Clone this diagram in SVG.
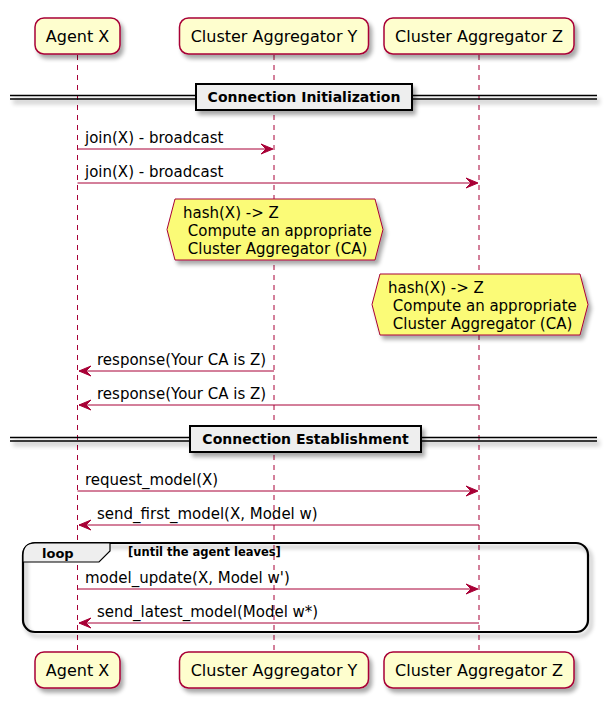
<svg xmlns="http://www.w3.org/2000/svg" width="607" height="708" viewBox="0 0 607 708">
<style>
.part{fill:#FEFECE;stroke:#A80036;stroke-width:1.5}
.pt{font-family:"DejaVu Sans",sans-serif;font-size:16px;fill:#000;text-anchor:middle}
.life{stroke:#A80036;stroke-width:1;stroke-dasharray:5,5;fill:none}
.msg{stroke:#A80036;stroke-width:1;fill:none}
.ah{fill:#A80036;stroke:#A80036;stroke-width:1}
.mt{font-family:"DejaVu Sans",sans-serif;font-size:15px;fill:#000}
.note{fill:#FBFB77;stroke:#A80036;stroke-width:1}
.div{fill:#EEEEEE;stroke:#000;stroke-width:2}
.dl{stroke:#000;stroke-width:1.3;fill:none}
.dt{font-family:"DejaVu Sans",sans-serif;font-size:14px;font-weight:bold;fill:#000;text-anchor:middle}
.loop{fill:none;stroke:#000;stroke-width:2.2}
.tab{fill:#EEEEEE;stroke:#000;stroke-width:1.2}
.lt{font-family:"DejaVu Sans",sans-serif;font-weight:bold;fill:#000}
</style>
<defs>
<filter id="sh" filterUnits="userSpaceOnUse" x="0" y="0" width="607" height="708">
<feGaussianBlur in="SourceAlpha" stdDeviation="2" result="b"/>
<feOffset in="b" dx="3" dy="4" result="o"/>
<feComponentTransfer in="o" result="s"><feFuncA type="linear" slope="0.35"/></feComponentTransfer>
<feMerge><feMergeNode in="s"/><feMergeNode in="SourceGraphic"/></feMerge>
</filter>
</defs>
<g id="lifelines">
<line class="life" x1="77.5" y1="55" x2="77.5" y2="652"/>
<line class="life" x1="274" y1="55" x2="274" y2="652"/>
<line class="life" x1="479" y1="55" x2="479" y2="652"/>
</g>
<g id="divider-init">
<g filter="url(#sh)">
<line class="dl" x1="10" y1="95.5" x2="597" y2="95.5"/>
<line class="dl" x1="10" y1="99" x2="597" y2="99"/>
</g>
<rect class="div" x="196" y="84" width="216" height="26" filter="url(#sh)"/>
<text class="dt" x="304" y="102">Connection Initialization</text>
</g>
<g id="divider-est">
<g filter="url(#sh)">
<line class="dl" x1="10" y1="437.5" x2="597" y2="437.5"/>
<line class="dl" x1="10" y1="441" x2="597" y2="441"/>
</g>
<rect class="div" x="190" y="426" width="231" height="26" filter="url(#sh)"/>
<text class="dt" x="305.5" y="444">Connection Establishment</text>
</g>
<g id="loop">
<rect class="loop" x="23" y="543" width="565" height="89" rx="12" filter="url(#sh)"/>
<path class="tab" d="M23,562 L23,555 Q23,543 35,543 L110,543 L110,551 L99,562 Z"/>
<text class="lt" x="42" y="558" font-size="13px">loop</text>
<text class="lt" x="128" y="556" font-size="11.5px">[until the agent leaves]</text>
</g>
<g id="note-y">
<polygon class="note" points="167,229.5 175,199 375,199 383,229.5 375,260 175,260" filter="url(#sh)"/>
<text class="mt" x="183" y="218">hash(X) -&gt; Z</text>
<text class="mt" x="183" y="236" xml:space="preserve"> Compute an appropriate</text>
<text class="mt" x="183" y="254" xml:space="preserve"> Cluster Aggregator (CA)</text>
</g>
<g id="note-z">
<polygon class="note" points="372,304.5 380,274 580,274 588,304.5 580,335 380,335" filter="url(#sh)"/>
<text class="mt" x="388" y="293">hash(X) -&gt; Z</text>
<text class="mt" x="388" y="311" xml:space="preserve"> Compute an appropriate</text>
<text class="mt" x="388" y="329" xml:space="preserve"> Cluster Aggregator (CA)</text>
</g>
<g id="connectors">
<line class="msg" x1="77.5" y1="149" x2="272" y2="149"/>
<polygon class="ah" points="261,144 273,149 261,154 266,149"/>
<text class="mt" x="85" y="143">join(X) - broadcast</text>

<line class="msg" x1="77.5" y1="183" x2="477" y2="183"/>
<polygon class="ah" points="466,178 478,183 466,188 471,183"/>
<text class="mt" x="85" y="177">join(X) - broadcast</text>

<line class="msg" x1="79" y1="371" x2="274" y2="371"/>
<polygon class="ah" points="91,366 79,371 91,376 86,371"/>
<text class="mt" x="97" y="365">response(Your CA is Z)</text>

<line class="msg" x1="79" y1="405" x2="479" y2="405"/>
<polygon class="ah" points="91,400 79,405 91,410 86,405"/>
<text class="mt" x="97" y="399">response(Your CA is Z)</text>

<line class="msg" x1="77.5" y1="491" x2="477" y2="491"/>
<polygon class="ah" points="466,486 478,491 466,496 471,491"/>
<text class="mt" x="85" y="485">request_model(X)</text>

<line class="msg" x1="79" y1="525" x2="479" y2="525"/>
<polygon class="ah" points="91,520 79,525 91,530 86,525"/>
<text class="mt" x="97" y="519">send_first_model(X, Model w)</text>

<line class="msg" x1="77.5" y1="589" x2="477" y2="589"/>
<polygon class="ah" points="466,584 478,589 466,594 471,589"/>
<text class="mt" x="85" y="583">model_update(X, Model w')</text>

<line class="msg" x1="79" y1="623" x2="479" y2="623"/>
<polygon class="ah" points="91,618 79,623 91,628 86,623"/>
<text class="mt" x="97" y="617">send_latest_model(Model w*)</text>
</g>
<g id="agent-x">
<rect class="part" x="35" y="18" width="85" height="36" rx="9" filter="url(#sh)"/>
<text class="pt" x="77.5" y="42">Agent X</text>
<rect class="part" x="35" y="652" width="85" height="36" rx="9" filter="url(#sh)"/>
<text class="pt" x="77.5" y="676">Agent X</text>
</g>
<g id="cluster-y">
<rect class="part" x="179.5" y="18" width="189" height="36" rx="9" filter="url(#sh)"/>
<text class="pt" x="274" y="42">Cluster Aggregator Y</text>
<rect class="part" x="179.5" y="652" width="189" height="36" rx="9" filter="url(#sh)"/>
<text class="pt" x="274" y="676">Cluster Aggregator Y</text>
</g>
<g id="cluster-z">
<rect class="part" x="384" y="18" width="190" height="36" rx="9" filter="url(#sh)"/>
<text class="pt" x="479" y="42">Cluster Aggregator Z</text>
<rect class="part" x="384" y="652" width="190" height="36" rx="9" filter="url(#sh)"/>
<text class="pt" x="479" y="676">Cluster Aggregator Z</text>
</g>
</svg>
